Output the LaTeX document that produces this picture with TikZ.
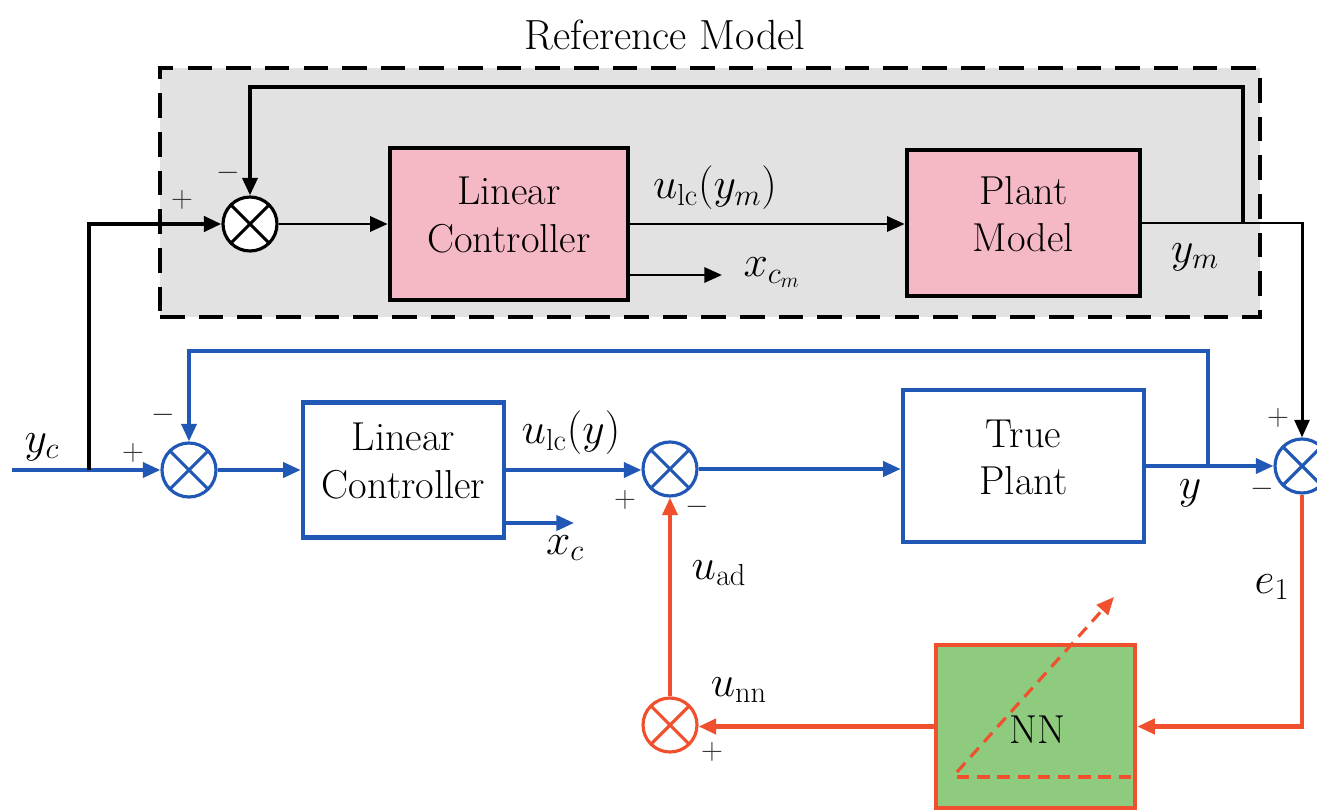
\documentclass[tikz,border=0pt]{standalone}
\usetikzlibrary{arrows.meta,calc}
\definecolor{bgray}{HTML}{E2E2E2}
\definecolor{pinkf}{HTML}{F5B8C5}
\definecolor{bblue}{HTML}{2158B5}
\definecolor{oorange}{HTML}{F0502D}
\definecolor{nngreen}{HTML}{8FCB7E}
\begin{document}
\begin{tikzpicture}[x=0.02cm,y=-0.02cm,
  every node/.style={font=\fontsize{23}{27}\selectfont},
  >={Triangle[length=10pt,width=8.5pt]},
  box/.style={draw, rectangle, inner sep=0pt, align=center},
  pinkbox/.style={box, fill=pinkf, draw=black, line width=2.6pt},
  bluebox/.style={box, draw=bblue, fill=white, line width=2.6pt},
  nnbox/.style={box, draw=oorange, fill=nngreen, line width=2.6pt},
  refbox/.style={rectangle, draw=black, fill=bgray, line width=2.6pt, dash pattern=on 14pt off 8pt, inner sep=0pt},
  sumj/.style={circle, draw=#1, fill=white, minimum size=1.08cm, inner sep=0pt, line width=1.8pt,
    path picture={\draw[#1, line width=1.8pt] (path picture bounding box.center) +(45:0.6cm) -- +(225:0.6cm)
      (path picture bounding box.center) +(135:0.6cm) -- +(315:0.6cm);}},
  sign/.style={font=\fontsize{16}{18}\selectfont, inner sep=0pt, text=black!80},
  lbl/.style={inner sep=0pt},
  boxtext/.style={align=center, yshift=5pt},
  blk/.style={draw=black, line width=1.7pt},
  blkthick/.style={draw=black, line width=2.6pt},
  bl/.style={draw=bblue, line width=2.2pt},
  orl/.style={draw=oorange, line width=2.2pt},
  orthick/.style={draw=oorange, line width=2.8pt},
  ordash/.style={draw=oorange, line width=1.8pt, dash pattern=on 7pt off 4.5pt}
]
\useasboundingbox (0,0) rectangle (1317,810);

% reference model container
\node[refbox, minimum width=22cm, minimum height=4.98cm] (refm) at (710,192.5) {};
\node[lbl, font=\fontsize{24}{28}\selectfont] (reftitle) at (665,35) {Reference Model};

% blocks
\node[pinkbox, minimum width=4.76cm, minimum height=3.04cm,
  label={[boxtext]center:Linear\\Controller}] (tlc) at (509,224) {};
\node[pinkbox, minimum width=4.66cm, minimum height=2.92cm,
  label={[boxtext]center:Plant\\Model}] (pm) at (1023.5,223) {};
\node[bluebox, minimum width=4.02cm, minimum height=2.7cm,
  label={[boxtext]center:Linear\\Controller}] (blc) at (403.5,470) {};
\node[bluebox, minimum width=4.82cm, minimum height=3.04cm,
  label={[boxtext]center:True\\Plant}] (tp) at (1023.5,466) {};
\node[nnbox, minimum width=3.98cm, minimum height=3.26cm] (nn) at (1035.5,726.5) {};
\node[lbl] (nntext) at (1037,730) {NN};

% summing junctions
\node[sumj=black] (sj1) at (250,224) {};
\node[sumj=bblue] (sj2) at (189,470) {};
\node[sumj=bblue] (sj3) at (670,469) {};
\node[sumj=bblue] (sj4) at (1302,466) {};
\node[sumj=oorange] (sj5) at (670,725) {};

% coordinates
\coordinate (ycin) at (12,470);
\coordinate (ycbr) at (89,470);
\coordinate (xcme) at (722,275);
\coordinate (xce) at (574,523);
\coordinate (ymfb) at (1243,223);
\coordinate (ymfbtop) at (1243,87);
\coordinate (yfb) at (1208,466);
\coordinate (yfbtop) at (1208,351);
\coordinate (nnd1) at (957,772);
\coordinate (nnd2) at (1114,597);
\coordinate (nnh1) at (957,777);
\coordinate (nnh2) at (1132,777);

% blue connectors
\draw[bl,->] (ycin) -- (sj2.west);
\draw[bl,->] (sj2.east) -- (sj2.east -| blc.west);
\draw[bl,->] (blc.east) -- (blc.east -| sj3.west);
\draw[bl,->] (xce -| blc.east) -- (xce);
\draw[bl,->] (sj3.east) -- (sj3.east -| tp.west);
\draw[bl,->] (tp.east) -- (tp.east -| sj4.west);
\draw[bl,->] (yfb) -- (yfbtop) -| (sj2.north);

% black connectors
\draw[blkthick,->] (ycbr) |- (sj1.west);
\draw[blk,->] (sj1.east) -- (sj1.east -| tlc.west);
\draw[blk,->] (tlc.east) -- (tlc.east -| pm.west);
\draw[blk,->] (xcme -| tlc.east) -- (xcme);
\draw[blk,->] (pm.east) -| (sj4.north);
\draw[blk,line width=2.2pt,->] (ymfb) -- (ymfbtop) -| (sj1.north);

% orange connectors
\draw[orthick,->] (sj4.south) |- (nn.east);
\draw[orthick,->] (nn.west) -- (nn.west -| sj5.east);
\draw[orl,->] (sj5.north) -- (sj3.south);
\draw[ordash,->] (nnd1) -- (nnd2);
\draw[ordash] (nnh1) -- (nnh2);

% labels
\node[lbl] (l-ulcym) at (715,188) {$u_{\mathrm{lc}}(y_m)$};
\node[lbl] (l-xcm) at (772,273) {$x_{c_m}$};
\node[lbl] (l-ym) at (1195,257) {$y_m$};
\node[lbl] (l-yc) at (42,447) {$y_c$};
\node[lbl] (l-ulcy) at (571,433) {$u_{\mathrm{lc}}(y)$};
\node[lbl] (l-xc) at (565,548) {$x_c$};
\node[lbl] (l-y) at (1190,493) {$y$};
\node[lbl] (l-e1) at (1272,587) {$e_1$};
\node[lbl] (l-uad) at (719,573) {$u_{\mathrm{ad}}$};
\node[lbl] (l-unn) at (739,690) {$u_{\mathrm{nn}}$};

% signs
\node[sign] (s1p) at (182,200) {$+$};
\node[sign] (s1m) at (228,173) {$-$};
\node[sign] (s2p) at (133,453) {$+$};
\node[sign] (s2m) at (163,415) {$-$};
\node[sign] (s3p) at (625,500) {$+$};
\node[sign] (s3m) at (697,507) {$-$};
\node[sign] (s4p) at (1278,418) {$+$};
\node[sign] (s4m) at (1262,489) {$-$};
\node[sign] (s5p) at (712,752) {$+$};
\end{tikzpicture}
\end{document}
